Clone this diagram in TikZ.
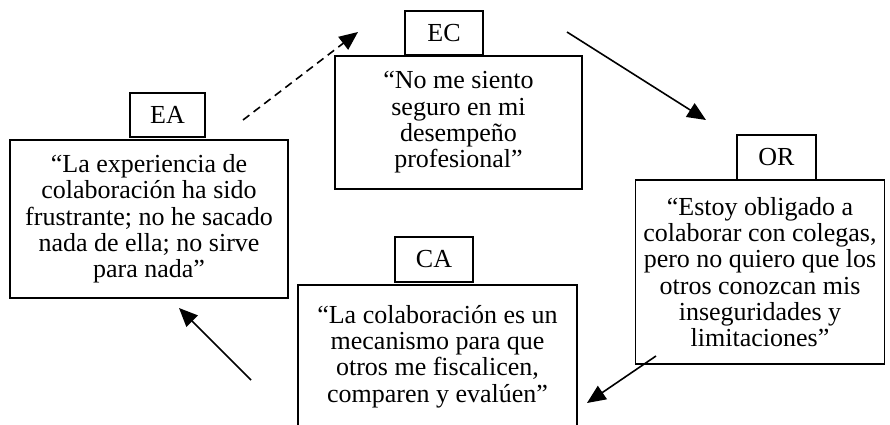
\documentclass[tikz,border=0pt]{standalone}
\usepackage{fontspec}
\setmainfont{Liberation Serif}
\usetikzlibrary{arrows.meta}

\tikzset{
  quote/.style={draw,line width=1.4pt,align=center,inner sep=0pt,font=\fontsize{19.5}{19.75}\selectfont},
  tag/.style={draw,line width=1.4pt,minimum width=59pt,minimum height=33.5pt,inner sep=0pt,font=\fontsize{19.5}{19.75}\selectfont},
  flow/.style={line width=1.2pt,-{Triangle[length=14pt,width=12pt]}}
}

\begin{document}
\begin{tikzpicture}[x=0.75pt,y=-0.75pt]
\useasboundingbox (0,0) rectangle (890,425);

% boxes with the quotes
\node[quote,minimum width=208.5pt,minimum height=118.5pt] (ea) at (149,219) {“La experiencia de\\colaboración ha sido\\frustrante; no he sacado\\nada de ella; no sirve\\para nada”};
\node[quote,minimum width=185.25pt,minimum height=99.75pt] (ec) at (458.5,122.5) {“No me siento\\seguro en mi\\desempeño\\profesional”};
\node[quote,minimum width=186.75pt,minimum height=138pt] (or) at (760,272) {“Estoy obligado a\\colaborar con colegas,\\pero no quiero que los\\otros conozcan mis\\inseguridades y\\limitaciones”};
\node[quote,minimum width=209.25pt,minimum height=107.25pt] (ca) at (437.5,356.5) {“La colaboración es un\\mecanismo para que\\otros me fiscalicen,\\comparen y evalúen”};

% small boxes with the codes
\node[tag,minimum width=56pt] (eaTag) at (167.5,115) {EA};
\node[tag] (ecTag) at (444,33) {EC};
\node[tag] (orTag) at (776.5,157.5) {OR};
\node[tag] (caTag) at (434,259.5) {CA};

% arrows
\coordinate (eaOut) at (243,120);
\coordinate (ecIn) at (358,32);
\coordinate (ecOut) at (567,32);
\coordinate (orIn) at (706,120);
\coordinate (orOut) at (656,356);
\coordinate (caIn) at (587,403);
\coordinate (caOut) at (251,380);
\coordinate (eaIn) at (179,308);
\draw[flow,dash pattern=on 6pt off 4pt] (eaOut) -- (ecIn);
\draw[flow] (ecOut) -- (orIn);
\draw[flow] (orOut) -- (caIn);
\draw[flow] (caOut) -- (eaIn);

\end{tikzpicture}
\end{document}
